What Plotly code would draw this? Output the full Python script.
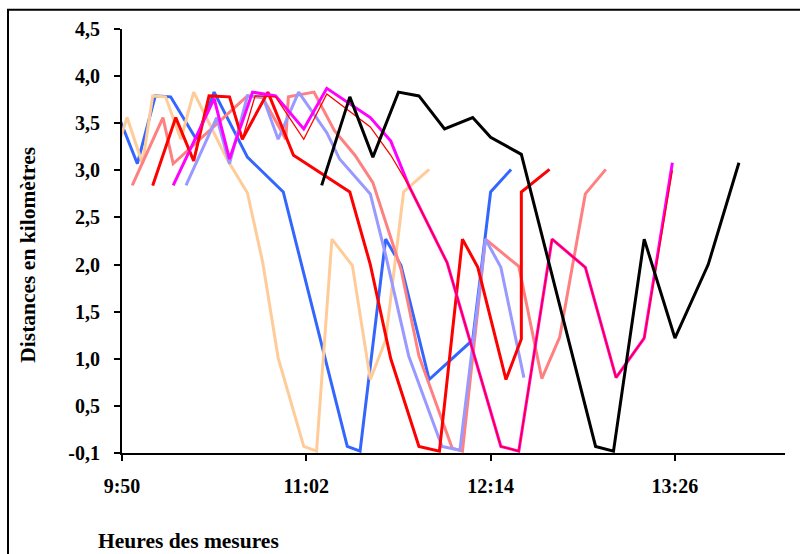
import plotly.graph_objects as go

# ---------------- data (times "H:MM", distances in km) ----------------
blue_t = ["9:38", "9:49", "9:56", "10:03", "10:09", "10:19", "10:26", "10:39", "10:53", "11:00",
          "11:18", "11:23", "11:33", "11:39", "11:50", "12:07", "12:14", "12:22"]
blue_v = [2.82, 3.55, 3.07, 3.79, 3.78, 3.33, 3.83, 3.14, 2.77, 2.02,
          0.07, 0.02, 2.27, 1.99, 0.78, 1.20, 2.77, 3.01]

peach_t = ["9:43", "9:52", "9:58", "10:02", "10:07", "10:13", "10:18", "10:31", "10:39", "10:45",
           "10:51", "11:01", "11:06", "11:12", "11:20", "11:27", "11:33", "11:40", "11:50"]
peach_v = [2.82, 3.56, 3.07, 3.79, 3.78, 3.33, 3.83, 3.12, 2.76, 2.02,
           1.01, 0.07, 0.02, 2.27, 1.99, 0.78, 1.20, 2.77, 3.01]

salmon_t = ["9:54", "10:06", "10:10", "10:39", "10:45", "10:54", "10:55", "11:05", "11:13", "11:21",
            "11:28", "11:39", "11:46", "11:59", "12:03", "12:12", "12:25", "12:34", "12:41", "12:51", "12:59"]
salmon_v = [2.84, 3.56, 3.07, 3.79, 3.77, 3.33, 3.78, 3.83, 3.42, 3.16,
            2.87, 1.95, 1.03, 0.05, 0.02, 2.27, 1.98, 0.79, 1.23, 2.75, 3.01]

lav_t = ["10:15", "10:27", "10:32", "10:39", "10:45", "10:51", "10:59", "11:10", "11:15", "11:27",
         "11:33", "11:42", "11:55", "12:02", "12:12", "12:18", "12:27"]
lav_v = [2.84, 3.56, 3.07, 3.79, 3.78, 3.33, 3.83, 3.40, 3.12, 2.75,
         2.10, 1.03, 0.07, 0.03, 2.27, 1.97, 0.80]

red_t = ["10:02", "10:11", "10:18", "10:24", "10:32", "10:37", "10:47", "10:57", "11:19", "11:27",
         "11:35", "11:46", "11:54", "12:03", "12:09", "12:20", "12:26", "12:26", "12:37"]
red_v = [2.84, 3.56, 3.10, 3.79, 3.78, 3.33, 3.83, 3.16, 2.77, 2.00,
         1.00, 0.07, 0.02, 2.27, 1.97, 0.78, 1.21, 2.77, 3.01]

mag_t = ["10:10", "10:26", "10:32", "10:41", "10:50", "11:01", "11:10", "11:27", "11:35", "11:42",
         "11:57", "12:18", "12:25", "12:38", "12:51", "13:03", "13:14", "13:25"]
mag_v = [2.84, 3.76, 3.12, 3.83, 3.79, 3.44, 3.87, 3.56, 3.31, 2.84,
         2.02, 0.07, 0.02, 2.27, 1.97, 0.80, 1.22, 3.08]

thin_t = ["10:02", "10:11", "10:18", "10:24", "10:32", "10:37", "10:42", "10:50", "11:01", "11:10",
          "11:27", "11:35", "11:42", "11:57", "12:18", "12:25", "12:38", "12:51", "13:03", "13:14", "13:25"]
thin_v = [2.84, 3.56, 3.10, 3.79, 3.78, 3.33, 3.79, 3.78, 3.33, 3.81,
          3.46, 3.16, 2.84, 2.02, 0.07, 0.02, 2.27, 1.97, 0.80, 1.22, 3.00]

black_t = ["11:08", "11:19", "11:28", "11:38", "11:46", "11:56", "12:07", "12:14", "12:26", "12:55",
           "13:02", "13:14", "13:26", "13:39", "13:51"]
black_v = [2.84, 3.78, 3.14, 3.83, 3.79, 3.44, 3.56, 3.35, 3.17, 0.07,
           0.02, 2.27, 1.22, 2.00, 3.08]

x_tick_labels = ["9:50", "11:02", "12:14", "13:26"]
y_tick_vals = [0, 0.5, 1.0, 1.5, 2.0, 2.5, 3.0, 3.5, 4.0, 4.5]
y_tick_labels = ["-0,1", "0,5", "1,0", "1,5", "2,0", "2,5", "3,0", "3,5", "4,0", "4,5"]


def to_min(t):
    h, m = t.split(":")
    return int(h) * 60 + int(m)


series = [
    (blue_t, blue_v, "#3366FF", 3),
    (peach_t, peach_v, "#FFCC99", 3),
    (salmon_t, salmon_v, "#FF8080", 3),
    (lav_t, lav_v, "#9999FF", 3),
    (red_t, red_v, "#FF0000", 3),
    (mag_t, mag_v, "#FF00FF", 3),
    (thin_t, thin_v, "#FF0000", 1.3),
    (black_t, black_v, "#000000", 3),
]

fig = go.Figure()
for t, v, c, w in series:
    fig.add_trace(go.Scatter(x=[to_min(s) for s in t], y=v, mode="lines",
                             line=dict(color=c, width=w), showlegend=False,
                             hoverinfo="skip"))

font_family = "Liberation Serif, Times New Roman, serif"
x0 = to_min("9:50")

fig.update_layout(
    width=800, height=554,
    margin=dict(l=122, r=15, t=29, b=101),
    paper_bgcolor="white", plot_bgcolor="white",
    font=dict(family=font_family, size=20, color="black"),
    showlegend=False,
)

fig.update_xaxes(
    range=[x0, x0 + 259],
    tickvals=[to_min(s) for s in x_tick_labels], ticktext=x_tick_labels,
    showgrid=False, zeroline=False,
    showline=True, linecolor="black", linewidth=2,
    ticks="outside", ticklen=6, tickwidth=1.5, tickcolor="black",
    tickfont=dict(family=font_family, size=20, color="black", weight="bold"),
    ticklabelstandoff=8,
)
fig.update_yaxes(
    range=[0, 4.5],
    tickvals=y_tick_vals, ticktext=y_tick_labels,
    showgrid=False, zeroline=False,
    showline=True, linecolor="black", linewidth=2,
    ticks="outside", ticklen=6, tickwidth=1.5, tickcolor="black",
    tickfont=dict(family=font_family, size=20, color="black", weight="bold"),
    ticklabelstandoff=10,
)

# axis titles
fig.add_annotation(text="Distances en kilomètres", xref="paper", yref="paper",
                   x=(28 - 122) / 663, y=(453.3 - 255) / 424, textangle=-90,
                   showarrow=False, xanchor="center", yanchor="middle",
                   font=dict(family=font_family, size=21.5, color="black", weight="bold"))
fig.add_annotation(text="Heures des mesures", xref="paper", yref="paper",
                   x=(96 - 122) / 663, y=(453.3 - 541) / 424,
                   showarrow=False, xanchor="left", yanchor="middle",
                   font=dict(family=font_family, size=21.5, color="black", weight="bold"))

# outer chart frame (extends beyond the right and bottom edges)
fig.add_shape(type="rect", xref="paper", yref="paper",
              x0=(8 - 122) / 663, x1=1.2, y0=-0.4, y1=(453.3 - 10) / 424,
              line=dict(color="black", width=2), fillcolor="rgba(0,0,0,0)", layer="below")

fig.write_html("out.html")
